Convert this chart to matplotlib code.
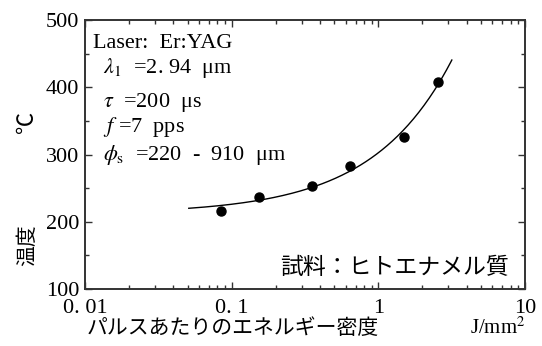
import numpy as np
import matplotlib
matplotlib.use("Agg")
import matplotlib.pyplot as plt
from matplotlib.ticker import LogLocator, MultipleLocator, FixedLocator, NullFormatter

plt.rcParams['font.family'] = ['Liberation Serif', 'Noto Sans CJK JP']
plt.rcParams['mathtext.fontset'] = 'stix'

# エネルギー密度 (J/mm^2) と温度 (℃)
energy = [0.0845, 0.154, 0.351, 0.64, 1.50, 2.54]
temperature = [216, 237, 253.6, 283, 325.5, 408]

# 近似曲線の範囲と指数
fit_range = (0.051, 3.17)
fit_power = 0.8

x_ticks = [0.01, 0.1, 1, 10]
x_ticklabels = ['0. 01', '0. 1', '1', '10']
y_ticks = [100, 200, 300, 400, 500]

conditions = [
    ('Laser:  Er:YAG', 0.018, 0.897),
    (r'$\lambda_{\mathrm{1}}$  =2. 94  μm', 0.041, 0.803),
    (r'$\tau$  =200  μs', 0.041, 0.675),
    (r'$f$ =7  pps', 0.041, 0.585),
    (r'$\phi_{\mathrm{s}}$  =220  -  910  μm', 0.041, 0.480),
]

fig = plt.figure(figsize=(5.42, 3.46), dpi=100)
ax = fig.add_axes([85 / 542, 57 / 346, 440 / 542, 269 / 346])

# 累乗近似 T = a + b * E^p
e = np.asarray(energy)
t = np.asarray(temperature)
b, a = np.polyfit(e ** fit_power, t, 1)
e_fit = np.logspace(np.log10(fit_range[0]), np.log10(fit_range[1]), 200)
ax.plot(e_fit, a + b * e_fit ** fit_power, color='black', lw=1.0)

ax.plot(energy, temperature, 'o', color='black', markersize=6.5)

ax.set_xscale('log')
ax.set_xlim(0.01, 10)
ax.set_ylim(100, 500)

ax.xaxis.set_major_locator(FixedLocator(x_ticks))
ax.set_xticklabels(x_ticklabels)
ax.xaxis.set_minor_locator(LogLocator(base=10, subs=np.arange(2, 10)))
ax.xaxis.set_minor_formatter(NullFormatter())
ax.set_yticks(y_ticks)
ax.yaxis.set_minor_locator(MultipleLocator(50))

ax.tick_params(which='both', direction='in', top=True, right=True,
               labelsize=16, color='#333333')
ax.tick_params(which='major', length=5, width=1.0)
ax.tick_params(which='minor', length=3, width=1.0)
ax.tick_params(axis='x', pad=7)
ax.tick_params(axis='y', pad=4)
for sp in ax.spines.values():
    sp.set_linewidth(1.4)
    sp.set_color('#333333')

for txt, x, y in conditions:
    ax.text(x, y, txt, transform=ax.transAxes, fontsize=16, va='baseline', ha='left')

ax.text(0.964, 0.08, '試料：ヒトエナメル質', transform=ax.transAxes,
        fontsize=16.5, ha='right', va='center', family=['Noto Sans CJK JP'])

# 軸ラベル
fig.text(233 / 542, 1 - 328 / 346, 'パルスあたりのエネルギー密度', fontsize=15,
         ha='center', va='center', family=['Noto Sans CJK JP'])
fig.text(498 / 542, 1 - 328 / 346, 'J/mm$^2$', fontsize=15, ha='center', va='center')
fig.text(27 / 542, 1 - 245 / 346, '温度', fontsize=15, rotation=90,
         ha='center', va='center', family=['Noto Sans CJK JP'])
fig.text(27 / 542, 1 - 122 / 346, '℃', fontsize=16, rotation=90,
         ha='center', va='center', family=['Noto Sans CJK JP'])

fig.savefig('out.png', dpi=100)
